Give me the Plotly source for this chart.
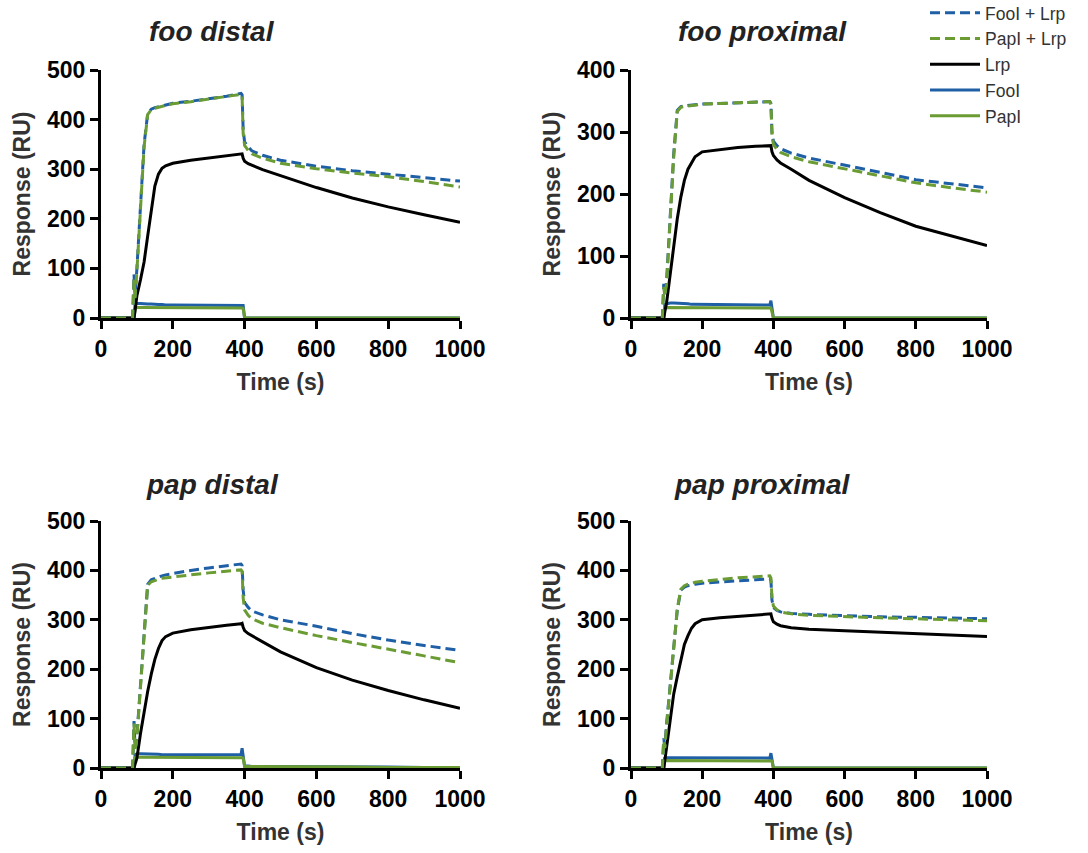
import plotly.graph_objects as go

TIME = [0, 88, 92, 95, 100, 110, 120, 130, 140, 150, 160, 170, 180, 200, 250,
        300, 350, 390, 393, 396, 400, 410, 420, 450, 500, 600, 700, 800, 900, 1000]

SERIES_NAMES = ["FooI + Lrp", "PapI + Lrp", "Lrp", "FooI", "PapI"]
PANEL_TITLES = ["foo distal", "foo proximal", "pap distal", "pap proximal"]
Y_MAX = [500, 400, 500, 500]
Y_TICKS = [[0, 100, 200, 300, 400, 500], [0, 100, 200, 300, 400],
           [0, 100, 200, 300, 400, 500], [0, 100, 200, 300, 400, 500]]
X_TICKS = [0, 200, 400, 600, 800, 1000]

# foo distal
FD_FOOI_LRP = [0, 0, 88, 43, 100, 225, 350, 412, 421, 424, 426, 428, 429, 433, 437,
               442, 447, 453, 450, 380, 355, 345, 337, 328, 318, 306, 297, 290, 283, 276]
FD_PAPI_LRP = [0, 0, 80, 40, 95, 220, 345, 410, 420, 423, 425, 427, 428, 432, 436,
               441, 446, 451, 447, 372, 348, 338, 331, 322, 312, 301, 292, 285, 275, 264]
FD_LRP = [0, 0, 0, 15, 45, 77, 113, 165, 215, 266, 290, 302, 307, 312, 318,
          323, 327, 331, 331, 322, 316, 311, 308, 299, 287, 263, 242, 224, 208, 193]
FD_FOOI = [0, 0, 0, 28, 29, 29, 28, 28, 28, 27, 27, 27, 26, 26, 26,
           26, 26, 26, 26, 25, 0, 0, 0, 0, 0, 0, 0, 0, 0, 0]
FD_PAPI = [0, 0, 0, 20, 21, 21, 21, 21, 21, 20, 20, 20, 20, 20, 20,
           20, 20, 20, 20, 19, 0, 0, 0, 0, 0, 0, 0, 0, 0, 0]

# foo proximal
FP_FOOI_LRP = [0, 0, 55, 40, 60, 160, 265, 335, 341, 342, 343, 343, 344, 345, 346,
               347, 348, 349, 346, 300, 285, 278, 273, 266, 258, 247, 235, 223, 216, 210]
FP_PAPI_LRP = [0, 0, 50, 35, 55, 155, 260, 333, 340, 341, 342, 343, 344, 345, 346,
               347, 348, 349, 344, 295, 280, 272, 267, 260, 252, 241, 229, 218, 210, 203]
FP_LRP = [0, 0, 0, 10, 25, 70, 115, 160, 195, 222, 240, 250, 260, 268, 272,
          275, 277, 279, 278, 268, 262, 255, 250, 240, 222, 194, 170, 148, 132, 117]
FP_FOOI = [0, 0, 0, 22, 23, 24, 24, 24, 24, 23, 23, 22, 22, 21, 21,
           21, 21, 21, 28, 15, 0, 0, 0, 0, 0, 0, 0, 0, 0, 0]
FP_PAPI = [0, 0, 0, 17, 17, 17, 17, 17, 17, 17, 17, 16, 16, 16, 16,
           16, 16, 16, 16, 10, 0, 0, 0, 0, 0, 0, 0, 0, 0, 0]

# pap distal
PD_FOOI_LRP = [0, 0, 95, 40, 65, 175, 285, 372, 381, 384, 387, 389, 391, 394, 400,
               405, 410, 413, 410, 360, 335, 325, 318, 310, 300, 287, 272, 259, 248, 238]
PD_PAPI_LRP = [0, 0, 90, 35, 60, 170, 280, 370, 377, 380, 382, 384, 385, 387, 391,
               395, 398, 401, 398, 345, 320, 309, 302, 293, 284, 268, 254, 241, 227, 213]
PD_LRP = [0, 0, 0, 8, 20, 70, 115, 155, 190, 220, 242, 258, 266, 273, 280,
          285, 289, 292, 293, 285, 278, 272, 268, 255, 235, 203, 178, 157, 138, 121]
PD_FOOI = [0, 0, 0, 27, 29, 29, 29, 28, 28, 28, 28, 27, 27, 27, 27,
           27, 27, 27, 40, 28, 4, 4, 3, 3, 3, 2, 2, 2, 1, 1]
PD_PAPI = [0, 0, 0, 21, 22, 22, 22, 22, 22, 22, 21, 21, 21, 21, 21,
           21, 21, 21, 21, 20, 3, 3, 3, 2, 2, 2, 2, 1, 1, 1]

# pap proximal
PP_FOOI_LRP = [0, 0, 60, 45, 90, 170, 250, 320, 360, 366, 369, 371, 372, 374, 377,
               379, 381, 383, 380, 340, 325, 319, 316, 313, 311, 308, 306, 305, 304, 302]
PP_PAPI_LRP = [0, 0, 55, 40, 85, 168, 250, 322, 362, 369, 372, 374, 376, 378, 382,
               385, 387, 389, 385, 345, 328, 320, 316, 312, 309, 306, 304, 302, 300, 298]
PP_LRP = [0, 0, 0, 15, 40, 100, 150, 185, 215, 250, 268, 283, 292, 300, 304,
          307, 309, 312, 312, 303, 296, 291, 288, 284, 281, 278, 275, 272, 269, 266]
PP_FOOI = [0, 0, 0, 20, 21, 21, 21, 21, 21, 21, 20, 20, 20, 20, 20,
           20, 20, 20, 30, 18, 0, 0, 0, 0, 0, 0, 0, 0, 0, 0]
PP_PAPI = [0, 0, 0, 15, 15, 15, 15, 15, 15, 15, 15, 15, 15, 15, 15,
           15, 15, 15, 15, 14, 0, 0, 0, 0, 0, 0, 0, 0, 0, 0]

PANEL_DATA = [
    [FD_FOOI_LRP, FD_PAPI_LRP, FD_LRP, FD_FOOI, FD_PAPI],
    [FP_FOOI_LRP, FP_PAPI_LRP, FP_LRP, FP_FOOI, FP_PAPI],
    [PD_FOOI_LRP, PD_PAPI_LRP, PD_LRP, PD_FOOI, PD_PAPI],
    [PP_FOOI_LRP, PP_PAPI_LRP, PP_LRP, PP_FOOI, PP_PAPI],
]

BLUE = "#1F5FA6"
GREEN = "#6A9C33"
STYLES = [
    dict(color=BLUE, width=3, dash="10px,5px"),
    dict(color=GREEN, width=3, dash="10px,5px"),
    dict(color="#000000", width=3),
    dict(color=BLUE, width=3),
    dict(color=GREEN, width=3),
]
DRAW_ORDER = [3, 4, 2, 0, 1]

W, H = 1088, 853
FONT = "Liberation Sans, Arial, Helvetica, sans-serif"

# pixel boxes of each plot area: (left, right, top, bottom)
BOXES = [(101, 460, 70, 318), (631, 987, 70, 318),
         (101, 460, 521, 768), (631, 987, 521, 768)]
TITLE_POS = [(212, 32), (762, 32), (212, 484), (762, 484)]

fig = go.Figure()

for p in range(4):
    xa = "x" if p == 0 else f"x{p+1}"
    ya = "y" if p == 0 else f"y{p+1}"
    for s in DRAW_ORDER:
        fig.add_trace(go.Scatter(
            x=TIME, y=PANEL_DATA[p][s], mode="lines",
            name=SERIES_NAMES[s], legendgroup=SERIES_NAMES[s],
            legendrank=s + 1,
            showlegend=(p == 0), line=STYLES[s],
            xaxis=xa, yaxis=ya, hoverinfo="skip",
        ))

axis_common = dict(
    showline=True, linewidth=3, linecolor="black", mirror=False,
    ticks="outside", ticklen=8, tickwidth=3, tickcolor="black",
    showgrid=False, zeroline=False, automargin=False,
    tickfont=dict(family=FONT, size=23, color="black", weight="bold"),
)
title_font = dict(family=FONT, size=23, color="#333333", weight="bold")

layout = dict(
    width=W, height=H, margin=dict(l=0, r=0, t=0, b=0, autoexpand=False),
    plot_bgcolor="white", paper_bgcolor="white",
    showlegend=True, hovermode=False,
    legend=dict(x=925 / W, y=1.006, xanchor="left", yanchor="top",
                font=dict(family=FONT, size=17.5, color="#333333"),
                bgcolor="rgba(0,0,0,0)", tracegroupgap=0, itemwidth=50,
                traceorder="normal"),
)

for p, (l, r, t, b) in enumerate(BOXES):
    suffix = "" if p == 0 else str(p + 1)
    layout["xaxis" + suffix] = dict(
        axis_common, domain=[l / W, r / W], range=[0, 1000],
        tickvals=X_TICKS, anchor="y" + suffix,
        title=dict(text="Time (s)", standoff=14, font=title_font),
    )
    layout["yaxis" + suffix] = dict(
        axis_common, domain=[(H - b) / H, (H - t) / H], range=[0, Y_MAX[p]],
        tickvals=Y_TICKS[p], anchor="x" + suffix,
        title=dict(text="Response (RU)", standoff=10, font=title_font),
    )

fig.update_layout(**layout)

for (tx, ty), txt in zip(TITLE_POS, PANEL_TITLES):
    fig.add_annotation(
        x=tx / W, y=(H - ty) / H, xref="paper", yref="paper",
        text=f"<b><i>{txt}</i></b>", showarrow=False,
        xanchor="center", yanchor="middle",
        font=dict(family=FONT, size=28, color="#222222"),
    )

fig.write_html(
    "out.html",
    config={"displayModeBar": False, "staticPlot": True},
    post_script="document.body.style.margin='0';document.body.style.overflow='hidden';",
)
